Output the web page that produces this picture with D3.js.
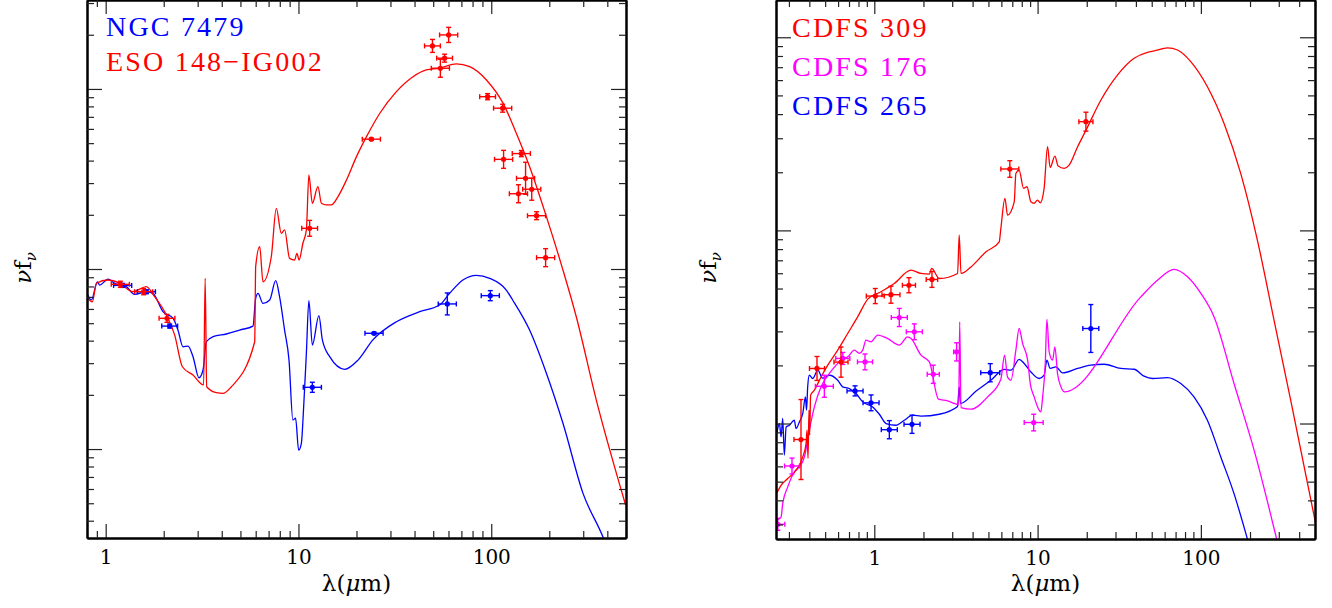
<!DOCTYPE html>
<html>
<head>
<meta charset="utf-8">
<script src="https://cdn.jsdelivr.net/npm/d3@7"></script>
<style>
    body { margin: 0; background: #ffffff; }
    svg { display: block; }
</style>
</head>
<body>
<div id="sedChart"></div>
<script>
// Datos: [log10 λ(μm), log10 νfν (unidades arbitrarias)]
// Puntos: [log10 λ, log10 νfν, error en log10 λ, error en log10 νfν]

// Panel izquierdo: NGC 7479 (azul) y ESO 148-IG002 (rojo)
const ngc7479Modelo = [
    [-0.100,-0.126],[-0.074,-0.172],[-0.043,-0.071],[-0.031,-0.089],[0.012,-0.057],[0.047,-0.079],
    [0.107,-0.098],[0.150,-0.141],[0.211,-0.126],[0.245,-0.135],[0.297,-0.237],[0.349,-0.273],
    [0.375,-0.339],[0.401,-0.432],[0.427,-0.428],[0.453,-0.487],[0.484,-0.604],[0.505,-0.561],
    [0.522,-0.404],[0.557,-0.376],[0.626,-0.361],[0.695,-0.339],[0.764,-0.317],[0.778,-0.163],
    [0.790,-0.135],[0.816,-0.191],[0.851,-0.172],[0.882,-0.065],[0.902,-0.154],[0.928,-0.339],
    [0.951,-0.506],[0.971,-0.839],[0.985,-0.829],[1.001,-1.006],[1.015,-0.968],[1.027,-0.765],
    [1.041,-0.468],[1.054,-0.176],[1.072,-0.422],[1.106,-0.259],[1.124,-0.394],[1.162,-0.487],
    [1.240,-0.557],[1.309,-0.506],[1.386,-0.394],[1.508,-0.293],[1.629,-0.237],[1.732,-0.200],
    [1.784,-0.135],[1.853,-0.061],[1.923,-0.035],[1.992,-0.052],[2.078,-0.117],[2.111,-0.172],
    [2.199,-0.339],[2.286,-0.579],[2.372,-0.857],[2.476,-1.246],[2.583,-1.498],[2.614,-1.589]
];
const eso148Modelo = [
    [-0.100,-0.154],[-0.069,-0.182],[-0.048,-0.079],[0.012,-0.061],[0.073,-0.079],[0.142,-0.126],
    [0.211,-0.098],[0.254,-0.154],[0.315,-0.256],[0.358,-0.367],[0.398,-0.543],[0.453,-0.589],
    [0.508,-0.644],[0.516,-0.052],[0.524,-0.654],[0.574,-0.687],[0.608,-0.691],[0.652,-0.654],
    [0.773,-0.404],[0.778,0.013],[0.799,0.124],[0.816,-0.071],[0.859,0.068],[0.885,0.337],
    [0.911,0.198],[0.928,0.217],[0.954,0.059],[0.980,0.050],[0.992,0.087],[1.003,0.050],
    [1.023,0.143],[1.041,0.217],[1.054,0.522],[1.072,0.365],[1.101,0.457],[1.119,0.365],
    [1.145,0.356],[1.171,0.356],[1.205,0.402],[1.249,0.494],[1.301,0.624],[1.353,0.735],
    [1.422,0.865],[1.508,0.985],[1.594,1.068],[1.663,1.106],[1.732,1.115],[1.819,1.139],
    [1.888,1.124],[1.975,1.050],[2.061,0.921],[2.130,0.754],[2.199,0.568],[2.286,0.291],
    [2.372,-0.006],[2.441,-0.265],[2.545,-0.728],[2.697,-1.311]
];
const ngc7479Puntos = [
    [0.088,-0.091,0.047,0.011],[0.211,-0.126,0.047,0.011],[0.332,-0.317,0.041,0.011],
    [1.072,-0.657,0.047,0.028],[1.392,-0.357,0.047,0.006],[1.772,-0.194,0.047,0.061],
    [1.995,-0.148,0.047,0.028]
];
const eso148Puntos = [
    [0.076,-0.085,0.047,0.017],[0.197,-0.126,0.047,0.017],[0.318,-0.274,0.041,0.022],
    [1.058,0.226,0.041,0.044],[1.378,0.721,0.047,0.006],[1.695,1.239,0.041,0.036],
    [1.779,1.300,0.047,0.042],[1.758,1.171,0.041,0.022],[1.736,1.115,0.047,0.050],
    [1.981,0.957,0.041,0.017],[2.059,0.893,0.047,0.022],[2.156,0.641,0.047,0.017],
    [2.064,0.609,0.047,0.050],[2.178,0.504,0.047,0.089],[2.210,0.443,0.047,0.061],
    [2.141,0.418,0.047,0.050],[2.235,0.296,0.047,0.022],[2.282,0.063,0.047,0.050]
];

// Panel derecho: CDFS 309 (rojo), CDFS 176 (magenta), CDFS 265 (azul)
const cdfs309Modelo = [
    [-0.597,-2.360],[-0.571,-2.320],[-0.530,-2.285],[-0.479,-2.242],[-0.438,-2.173],[-0.418,-2.104],
    [-0.412,-2.035],[-0.406,-2.180],[-0.400,-1.931],[-0.396,-2.060],[-0.390,-1.853],[-0.367,-1.827],
    [-0.326,-1.759],[-0.285,-1.698],[-0.224,-1.620],[-0.163,-1.534],[-0.102,-1.448],[-0.040,-1.356],
    [0.041,-1.318],[0.122,-1.275],[0.225,-1.206],[0.286,-1.223],[0.337,-1.226],[0.351,-1.197],
    [0.398,-1.249],[0.510,-1.223],[0.520,-1.024],[0.531,-1.223],[0.592,-1.189],[0.684,-1.111],
    [0.765,-1.059],[0.775,-0.990],[0.800,-0.834],[0.816,-0.921],[0.857,-0.852],[0.867,-0.705],
    [0.887,-0.688],[0.914,-0.782],[0.935,-0.774],[0.959,-0.852],[0.979,-0.860],[1.000,-0.843],
    [1.016,-0.857],[1.040,-0.782],[1.061,-0.567],[1.077,-0.674],[1.106,-0.615],[1.126,-0.667],
    [1.163,-0.679],[1.193,-0.662],[1.245,-0.567],[1.296,-0.482],[1.388,-0.325],[1.490,-0.195],
    [1.591,-0.109],[1.673,-0.078],[1.714,-0.071],[1.796,-0.055],[1.857,-0.066],[1.938,-0.126],
    [2.040,-0.256],[2.142,-0.446],[2.244,-0.705],[2.346,-1.050],[2.448,-1.465],[2.550,-1.879],
    [2.703,-2.518]
];
const cdfs176Modelo = [
    [-0.597,-2.501],[-0.571,-2.484],[-0.561,-2.415],[-0.530,-2.328],[-0.490,-2.251],[-0.459,-2.225],
    [-0.428,-2.173],[-0.398,-2.035],[-0.367,-1.914],[-0.326,-1.810],[-0.275,-1.741],[-0.234,-1.698],
    [-0.204,-1.672],[-0.163,-1.655],[-0.122,-1.620],[-0.092,-1.637],[-0.071,-1.620],[-0.051,-1.568],
    [-0.020,-1.577],[0.021,-1.542],[0.082,-1.560],[0.153,-1.594],[0.204,-1.551],[0.225,-1.560],
    [0.286,-1.646],[0.337,-1.681],[0.393,-1.874],[0.449,-1.883],[0.490,-1.896],[0.517,-1.903],
    [0.523,-1.474],[0.531,-1.918],[0.592,-1.926],[0.694,-1.862],[0.775,-1.771],[0.798,-1.646],
    [0.816,-1.760],[0.837,-1.776],[0.867,-1.620],[0.887,-1.508],[0.908,-1.585],[0.939,-1.672],
    [0.955,-1.793],[0.979,-1.862],[1.000,-1.914],[1.020,-1.940],[1.031,-1.862],[1.047,-1.689],
    [1.057,-1.461],[1.071,-1.629],[1.092,-1.672],[1.106,-1.603],[1.122,-1.741],[1.143,-1.810],
    [1.163,-1.836],[1.632,-1.344],[1.734,-1.258],[1.836,-1.202],[1.918,-1.240],[2.000,-1.326],
    [2.081,-1.448],[2.203,-1.793],[2.326,-2.138],[2.464,-2.598]
];
const cdfs265Modelo = [
    [-0.597,-2.052],[-0.581,-2.000],[-0.571,-2.069],[-0.561,-1.974],[-0.551,-2.164],[-0.540,-2.018],
    [-0.520,-2.009],[-0.490,-1.983],[-0.479,-2.026],[-0.459,-1.992],[-0.438,-1.948],[-0.422,-1.862],
    [-0.415,-1.931],[-0.408,-1.810],[-0.398,-1.750],[-0.377,-1.767],[-0.346,-1.724],[-0.316,-1.765],
    [-0.275,-1.750],[-0.224,-1.776],[-0.194,-1.810],[-0.153,-1.819],[-0.112,-1.845],[-0.071,-1.888],
    [-0.010,-1.914],[0.031,-1.952],[0.072,-2.000],[0.133,-2.009],[0.184,-1.983],[0.235,-1.957],
    [0.286,-1.962],[0.398,-1.952],[0.510,-1.912],[0.520,-1.810],[0.528,-1.896],[0.622,-1.833],
    [0.714,-1.776],[0.796,-1.720],[0.837,-1.724],[0.887,-1.668],[0.918,-1.689],[0.959,-1.733],
    [1.010,-1.767],[1.040,-1.750],[1.057,-1.672],[1.077,-1.715],[1.112,-1.707],[1.153,-1.738],
    [1.245,-1.715],[1.326,-1.698],[1.408,-1.693],[1.510,-1.715],[1.591,-1.719],[1.652,-1.755],
    [1.704,-1.767],[1.796,-1.762],[1.877,-1.793],[1.958,-1.862],[2.040,-1.983],[2.122,-2.173],
    [2.203,-2.363],[2.285,-2.598]
];
const cdfs309Puntos = [
    [-0.449,-2.083,0.043,0.207],[-0.351,-1.715,0.046,0.062],[-0.204,-1.682,0.043,0.078],
    [0.006,-1.340,0.055,0.039],[0.102,-1.333,0.055,0.044],[0.212,-1.284,0.040,0.039],
    [0.353,-1.254,0.035,0.041],[0.830,-0.682,0.055,0.043],[1.296,-0.437,0.043,0.049]
];
const cdfs176Puntos = [
    [-0.591,-2.522,0.043,0.031],[-0.504,-2.220,0.046,0.041],[-0.306,-1.807,0.055,0.057],
    [-0.193,-1.663,0.043,0.031],[-0.057,-1.681,0.046,0.041],[0.153,-1.451,0.049,0.047],
    [0.245,-1.525,0.049,0.041],[0.361,-1.745,0.037,0.047],[0.504,-1.629,0.018,0.047],
    [0.976,-1.995,0.058,0.043]
];
const cdfs265Puntos = [
    [-0.118,-1.831,0.049,0.026],[-0.020,-1.893,0.049,0.041],[0.092,-2.032,0.049,0.047],
    [0.231,-2.004,0.049,0.047],[0.710,-1.737,0.058,0.047],[1.326,-1.508,0.049,0.124]
];

// Etiquetas de los ejes
const xTickLabels = [1, 10, 100];
const leftLegend = ['NGC 7479', 'ESO 148\u2212IG002'];
const rightLegend = ['CDFS 309', 'CDFS 176', 'CDFS 265'];

document.addEventListener('DOMContentLoaded', function() {
    const fontFamily = '"DejaVu Serif", "Liberation Serif", serif';
    const legendFont = '"Liberation Serif", "DejaVu Serif", serif';
    const azul = '#0000ff', rojo = '#ff0000', magenta = '#ff00ff';

    // Configuración de cada panel
    const panels = [
        {
            left: 87, right: 626, top: 0, bottom: 538,
            xDomain: [0.8, 500],
            yDomain: [Math.pow(10, -1.494), Math.pow(10, 1.494)],
            yMajor: [0.1, 1, 10],
            series: [
                { modelo: ngc7479Modelo, puntos: ngc7479Puntos, color: azul },
                { modelo: eso148Modelo, puntos: eso148Puntos, color: rojo }
            ],
            legend: leftLegend, legendColors: [azul, rojo],
            legendX: 106, legendY: 35.7, legendStep: 35.3,
            yLabelX: 31
        },
        {
            left: 776, right: 1315, top: 0, bottom: 539,
            xDomain: [0.25, 500],
            yDomain: [Math.pow(10, -2.598), Math.pow(10, 0.193)],
            yMajor: [0.01, 0.1, 1],
            series: [
                { modelo: cdfs265Modelo, puntos: cdfs265Puntos, color: azul },
                { modelo: cdfs176Modelo, puntos: cdfs176Puntos, color: magenta },
                { modelo: cdfs309Modelo, puntos: cdfs309Puntos, color: rojo }
            ],
            legend: rightLegend, legendColors: [rojo, magenta, azul],
            legendX: 792, legendY: 37.3, legendStep: 38.9,
            yLabelX: 716
        }
    ];

    // Ticks menores logarítmicos dentro del dominio
    function minorTicks(domain) {
        const ticks = [];
        const lo = Math.floor(Math.log10(domain[0])), hi = Math.ceil(Math.log10(domain[1]));
        for (let n = lo; n <= hi; n++) {
            for (let k = 2; k <= 9; k++) {
                const v = k * Math.pow(10, n);
                if (v >= domain[0] * 0.999 && v <= domain[1] * 1.001) ticks.push(v);
            }
        }
        return ticks;
    }

    const svg = d3.select('#sedChart')
        .append('svg')
        .attr('width', 1332)
        .attr('height', 608)
        .style('background', '#ffffff');

    panels.forEach((p, i) => {
        const x = d3.scaleLog().domain(p.xDomain).range([p.left, p.right]);
        const y = d3.scaleLog().domain(p.yDomain).range([p.bottom, p.top]);
        const g = svg.append('g').attr('class', 'panel-' + i);

        // Recorte del área de dibujo
        g.append('clipPath')
            .attr('id', 'clip-' + i)
            .append('rect')
            .attr('x', p.left)
            .attr('y', p.top)
            .attr('width', p.right - p.left)
            .attr('height', p.bottom - p.top);

        const plot = g.append('g').attr('clip-path', `url(#clip-${i})`);

        const line = d3.line()
            .x(d => x(Math.pow(10, d[0])))
            .y(d => y(Math.pow(10, d[1])))
            .curve(d3.curveMonotoneX);

        // Curvas de los modelos
        p.series.forEach(s => {
            plot.append('path')
                .datum(s.modelo)
                .attr('d', line)
                .attr('fill', 'none')
                .attr('stroke', s.color)
                .attr('stroke-width', 1.3)
                .attr('stroke-linejoin', 'round');
        });

        // Puntos con barras de error
        p.series.forEach(s => {
            const pts = plot.append('g')
                .selectAll('g')
                .data(s.puntos)
                .join('g')
                .attr('stroke', s.color)
                .attr('stroke-width', 1.4)
                .attr('fill', s.color);

            const cx = d => x(Math.pow(10, d[0]));
            const cy = d => y(Math.pow(10, d[1]));
            const xl = d => x(Math.pow(10, d[0] - d[2]));
            const xr = d => x(Math.pow(10, d[0] + d[2]));
            const yt = d => y(Math.pow(10, d[1] + d[3]));
            const yb = d => y(Math.pow(10, d[1] - d[3]));
            const cap = 2.5;

            pts.append('line').attr('x1', xl).attr('x2', xr).attr('y1', cy).attr('y2', cy);
            pts.append('line').attr('x1', cx).attr('x2', cx).attr('y1', yt).attr('y2', yb);
            pts.append('line').attr('x1', xl).attr('x2', xl).attr('y1', d => cy(d) - cap).attr('y2', d => cy(d) + cap);
            pts.append('line').attr('x1', xr).attr('x2', xr).attr('y1', d => cy(d) - cap).attr('y2', d => cy(d) + cap);
            pts.append('line').attr('x1', d => cx(d) - cap).attr('x2', d => cx(d) + cap).attr('y1', yt).attr('y2', yt);
            pts.append('line').attr('x1', d => cx(d) - cap).attr('x2', d => cx(d) + cap).attr('y1', yb).attr('y2', yb);
            pts.append('circle')
                .attr('cx', cx)
                .attr('cy', cy)
                .attr('r', 2.6)
                .attr('stroke', 'none');
        });

        // Ejes: ticks mayores y menores hacia dentro en los cuatro lados
        const xMinor = minorTicks(p.xDomain);
        const yMinor = minorTicks(p.yDomain);
        const axes = g.append('g').attr('class', 'axes');

        const bottomMajor = axes.append('g')
            .attr('transform', `translate(0,${p.bottom})`)
            .call(d3.axisBottom(x).tickValues(xTickLabels).tickSize(-14).tickSizeOuter(0)
                .tickPadding(12).tickFormat(d3.format('d')));
        bottomMajor.selectAll('text')
            .style('font-family', fontFamily)
            .style('font-size', '20px')
            .style('fill', '#000');

        axes.append('g')
            .attr('transform', `translate(0,${p.bottom})`)
            .call(d3.axisBottom(x).tickValues(xMinor).tickSize(-7).tickSizeOuter(0).tickFormat(''));
        axes.append('g')
            .attr('transform', `translate(0,${p.top})`)
            .call(d3.axisTop(x).tickValues(xTickLabels).tickSize(-14).tickSizeOuter(0).tickFormat(''));
        axes.append('g')
            .attr('transform', `translate(0,${p.top})`)
            .call(d3.axisTop(x).tickValues(xMinor).tickSize(-7).tickSizeOuter(0).tickFormat(''));
        axes.append('g')
            .attr('transform', `translate(${p.left},0)`)
            .call(d3.axisLeft(y).tickValues(p.yMajor).tickSize(-15).tickSizeOuter(0).tickFormat(''));
        axes.append('g')
            .attr('transform', `translate(${p.left},0)`)
            .call(d3.axisLeft(y).tickValues(yMinor).tickSize(-7).tickSizeOuter(0).tickFormat(''));
        axes.append('g')
            .attr('transform', `translate(${p.right},0)`)
            .call(d3.axisRight(y).tickValues(p.yMajor).tickSize(-15).tickSizeOuter(0).tickFormat(''));
        axes.append('g')
            .attr('transform', `translate(${p.right},0)`)
            .call(d3.axisRight(y).tickValues(yMinor).tickSize(-7).tickSizeOuter(0).tickFormat(''));

        axes.selectAll('.domain')
            .attr('stroke', '#000')
            .attr('stroke-width', 2);
        axes.selectAll('.tick line')
            .attr('stroke', '#222')
            .attr('stroke-width', 1.2);

        // Leyenda
        p.legend.forEach((t, k) => {
            g.append('text')
                .attr('x', p.legendX)
                .attr('y', p.legendY + k * p.legendStep)
                .style('font-family', legendFont)
                .style('font-size', '28px')
                .style('letter-spacing', '2.2px')
                .style('fill', p.legendColors[k])
                .text(t);
        });

        // Etiqueta del eje X
        const xLabel = g.append('text')
            .attr('x', (p.left + p.right) / 2)
            .attr('y', 591)
            .attr('text-anchor', 'middle')
            .style('font-family', fontFamily)
            .style('font-size', '23px')
            .style('fill', '#000');
        xLabel.append('tspan').text('\u03bb(');
        xLabel.append('tspan').style('font-style', 'italic').text('\u03bc');
        xLabel.append('tspan').text('m)');

        // Etiqueta del eje Y
        const yLabel = g.append('text')
            .attr('transform', `translate(${p.yLabelX},268) rotate(-90)`)
            .attr('text-anchor', 'middle')
            .style('font-family', fontFamily)
            .style('font-size', '23px')
            .style('fill', '#000');
        yLabel.append('tspan').style('font-style', 'italic').text('\u03bd');
        yLabel.append('tspan').text('f');
        yLabel.append('tspan')
            .attr('dy', 5)
            .style('font-size', '15px')
            .style('font-style', 'italic')
            .text('\u03bd');
    });
});
</script>
</body>
</html>
